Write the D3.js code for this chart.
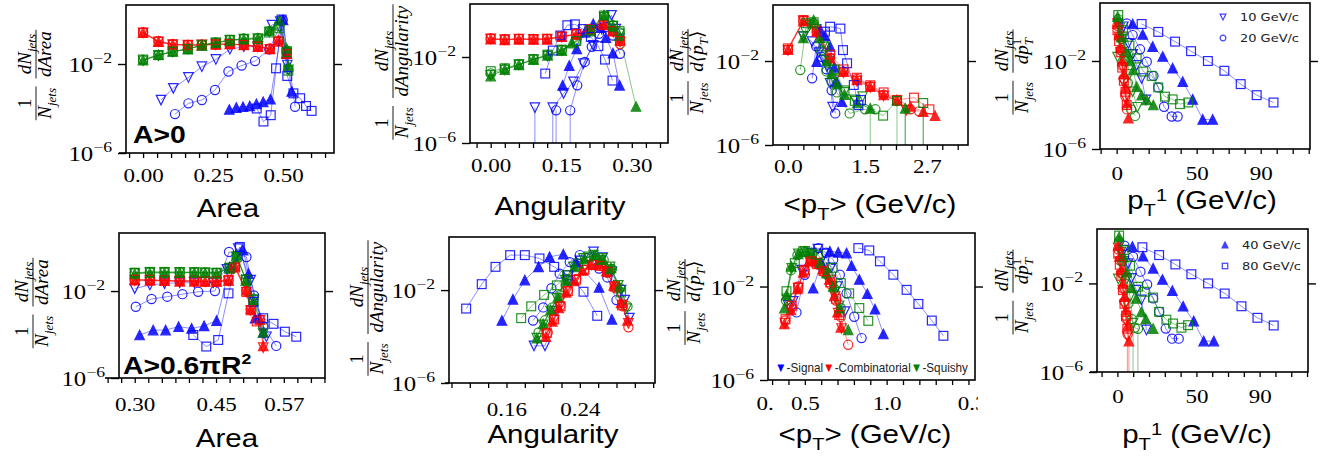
<!DOCTYPE html>
<html>
<head>
<meta charset="utf-8">
<script src="https://d3js.org/d3.v7.min.js"></script>
<style>
  body { margin: 0; background: #fff; }
  svg { display: block; }
</style>
</head>
<body>
<div id="canvas"></div>
<script>
// ---- series: each sample holds 4 curves, in order 10, 20, 40, 80 GeV/c ----
// a y value of 0 means an empty bin (line drops off the bottom of the log axis)

// Area, A>0
const areaA0_signal = [
  [[0.064,2.4e-4],[0.108,8.1e-4],[0.162,2.5e-3],[0.21,7.6e-3],[0.26,1.6e-2],[0.31,4.6e-2],[0.36,6e-2],[0.41,6e-2],[0.46,0.56],[0.49,0.8],[0.515,9e-3]],
  [[0.114,5.6e-5],[0.162,1.7e-4],[0.21,2.4e-4],[0.257,6.8e-4],[0.305,4.6e-3],[0.352,8.5e-3],[0.40,1.35e-2],[0.451,4.6e-2],[0.499,0.95],[0.543,1.2e-4]],
  [[0.308,9e-5],[0.333,1.1e-4],[0.357,1.2e-4],[0.381,1.3e-4],[0.405,1.6e-4],[0.429,2e-4],[0.455,2.6e-4],[0.50,0.95],[0.512,3e-2],[0.531,5.8e-4]],
  [[0.406,1e-4],[0.43,2.6e-5],[0.456,5e-5],[0.475,6.4e-3],[0.495,1.0],[0.515,2.9e-3],[0.537,4.8e-4],[0.561,2.9e-4],[0.582,1.3e-4],[0.602,7.8e-5]]
];
const areaA0_comb = [
  [[0,0.25],[0.055,0.1],[0.106,7.4e-2],[0.16,7e-2],[0.21,7.2e-2],[0.26,7.5e-2],[0.31,7.8e-2],[0.36,7e-2],[0.41,6e-2],[0.453,4.6e-2],[0.483,0.1],[0.513,3e-2]],
  [[0,0.27],[0.055,0.11],[0.106,7.8e-2],[0.16,7.2e-2],[0.21,7.4e-2],[0.26,7.8e-2],[0.31,8e-2],[0.36,7.4e-2],[0.41,6.2e-2],[0.453,5e-2],[0.483,0.11],[0.513,3.2e-2]],
  [[0,0.26],[0.055,0.1],[0.106,7.6e-2],[0.16,7e-2],[0.21,7e-2],[0.26,7.6e-2],[0.31,8e-2],[0.36,7.2e-2],[0.41,6e-2],[0.453,4.8e-2],[0.483,0.12],[0.513,3e-2]],
  [[0,0.25],[0.055,0.1],[0.106,7.5e-2],[0.16,7.1e-2],[0.21,7.2e-2],[0.26,7.6e-2],[0.31,7.9e-2],[0.36,7.2e-2],[0.41,6.1e-2],[0.453,4.7e-2],[0.483,0.1],[0.513,2.8e-2]]
];
const areaA0_squ = [
  [[0,1.4e-2],[0.055,2.4e-2],[0.106,3.5e-2],[0.16,4.7e-2],[0.21,7e-2],[0.26,9e-2],[0.31,0.12],[0.36,0.13],[0.41,0.14],[0.451,0.28],[0.487,0.45],[0.513,3.6e-2],[0.519,5.4e-3]],
  [[0,1.5e-2],[0.055,2.5e-2],[0.106,3.6e-2],[0.16,4.8e-2],[0.21,7.2e-2],[0.26,9.2e-2],[0.31,0.12],[0.36,0.14],[0.41,0.15],[0.451,0.3],[0.487,0.5],[0.513,4e-2],[0.519,6e-3]],
  [[0,1.5e-2],[0.055,2.6e-2],[0.106,3.7e-2],[0.16,4.6e-2],[0.21,6.8e-2],[0.26,8.8e-2],[0.31,0.11],[0.36,0.13],[0.41,0.14],[0.451,0.32],[0.487,0.9],[0.513,5e-2],[0.519,8e-3]],
  [[0,1.6e-2],[0.055,2.5e-2],[0.106,3.6e-2],[0.16,4.7e-2],[0.21,7e-2],[0.26,9e-2],[0.31,0.12],[0.36,0.13],[0.41,0.13],[0.451,0.26],[0.487,0.4],[0.513,3.4e-2],[0.519,5e-3]]
];

// Angularity, A>0
const angA0_signal = [
  [[0.094,4.4e-5],[0.11,0],[0.132,4.4e-5],[0.155,2e-4],[0.176,7e-4],[0.197,4.9e-3],[0.218,3.5e-2],[0.236,0.2],[0.257,0.87],[0.266,0.2],[0.274,7e-2]],
  [[0.139,3.3e-5],[0.15,0],[0.169,3.3e-5],[0.184,4.8e-4],[0.2,5.9e-3],[0.215,3e-2],[0.23,0.12],[0.245,0.25],[0.26,0.1],[0.275,1.4e-2]],
  [[0.153,4.8e-4],[0.167,4e-3],[0.183,2.4e-2],[0.2,0.14],[0.218,0.35],[0.234,0.23],[0.245,8e-2],[0.26,1.5e-2],[0.274,4.8e-4]],
  [[0.116,1.7e-3],[0.132,2e-2],[0.148,0.1],[0.163,0.3],[0.179,0.33],[0.196,0.2],[0.213,8.5e-2],[0.229,3.2e-2],[0.243,7.6e-3],[0.259,8e-4]]
];
const angA0_comb = [
  [[0,7e-2],[0.03,6.4e-2],[0.06,6.8e-2],[0.091,6.6e-2],[0.12,6.8e-2],[0.151,8.5e-2],[0.182,0.11],[0.211,0.18],[0.24,0.3],[0.26,0.15],[0.275,5e-2]],
  [[0,7.2e-2],[0.03,6.6e-2],[0.06,7e-2],[0.091,6.8e-2],[0.12,7e-2],[0.151,9e-2],[0.182,0.12],[0.211,0.2],[0.24,0.32],[0.26,0.17],[0.275,4e-2]],
  [[0,6.8e-2],[0.03,6.2e-2],[0.06,6.6e-2],[0.091,6.6e-2],[0.12,6.6e-2],[0.151,8.8e-2],[0.182,0.11],[0.211,0.19],[0.24,0.35],[0.26,0.16],[0.275,6e-2]],
  [[0,7e-2],[0.03,6.5e-2],[0.06,6.9e-2],[0.091,6.7e-2],[0.12,6.9e-2],[0.151,9e-2],[0.182,0.12],[0.211,0.19],[0.24,0.3],[0.26,0.16],[0.275,5.5e-2]]
];
const angA0_squ = [
  [[0,1.4e-3],[0.03,2.5e-3],[0.06,4.4e-3],[0.091,7.5e-3],[0.121,1.1e-2],[0.151,2e-2],[0.182,5e-2],[0.211,0.16],[0.241,0.7],[0.26,0.27],[0.274,0.12]],
  [[0,1.7e-3],[0.03,2.8e-3],[0.06,4.6e-3],[0.091,8e-3],[0.121,1.2e-2],[0.151,2.1e-2],[0.182,5.2e-2],[0.211,0.17],[0.241,0.8],[0.26,0.3],[0.274,0.14]],
  [[0,1.3e-3],[0.03,2.6e-3],[0.06,4.3e-3],[0.091,7.6e-3],[0.121,1.2e-2],[0.151,2e-2],[0.172,4.4e-2],[0.211,0.16],[0.241,0.9],[0.26,0.25],[0.274,0.1],[0.309,5e-5]],
  [[0,2.2e-3],[0.03,3e-3],[0.06,4.5e-3],[0.091,7.8e-3],[0.121,1.3e-2],[0.151,2.2e-2],[0.182,5.5e-2],[0.211,0.18],[0.241,0.85],[0.26,0.28],[0.274,0.16]]
];

// <pT>, A>0
const ptMeanA0_signal = [
  [[0.3,0.145],[0.47,8.3e-2],[0.6,2.5e-2],[0.7,1.1e-2],[0.76,5.4e-3],[0.82,8.7e-4],[0.87,6.3e-5]],
  [[0.47,1.5e-3],[0.55,5e-2],[0.65,1.6e-2],[0.75,4e-3],[0.85,4e-4],[0.92,3.2e-5]],
  [[0.56,9.3e-3],[0.63,0.3],[0.72,0.16],[0.82,5e-2],[0.9,5e-3],[0.95,1e-3],[1.05,1.15e-4]],
  [[0.72,0.25],[0.82,0.43],[1.02,0.35],[1.07,3.3e-2],[1.15,7.8e-3],[1.28,7.2e-4],[1.37,7.9e-5],[1.42,1.4e-4]]
];
const ptMeanA0_comb = [
  [[0,3.2e-2],[0.3,0.8],[0.56,0.22],[0.82,1.26e-2],[1.08,2.8e-3],[1.34,1.1e-3],[1.6,5.6e-4],[1.86,2.2e-4],[2.12,1.26e-4],[2.3,4.5e-5]],
  [[0,3.5e-2],[0.3,0.83],[0.56,0.25],[0.82,1.4e-2],[1.08,3.2e-3],[1.34,1.4e-3],[1.6,6.3e-4],[1.86,2.5e-4],[2.12,1.26e-4],[2.38,5e-5],[2.55,4e-5]],
  [[0,3.5e-2],[0.3,0.8],[0.56,0.25],[0.82,1.35e-2],[1.08,3.1e-3],[1.34,1.26e-3],[1.6,6e-4],[1.86,2.4e-4],[2.12,1.4e-4],[2.38,6.8e-5],[2.63,3.9e-5],[2.86,2.5e-5]],
  [[0,4e-2],[0.3,0.9],[0.56,0.28],[0.82,2e-2],[1.08,4e-3],[1.34,1.6e-3],[1.6,7e-4],[1.86,3.2e-4],[2.12,1.4e-4],[2.45,1.8e-4],[2.75,5e-5]]
];
const ptMeanA0_squ = [
  [[0.3,0.145],[0.42,0.5],[0.55,0.32],[0.7,6.3e-2],[0.8,1e-2],[0.9,1.26e-3],[1.1,3.2e-4],[1.3,1.4e-4],[1.45,2e-4]],
  [[0.24,3.7e-3],[0.35,0.4],[0.5,0.63],[0.65,3.2e-2],[0.75,3.2e-3],[0.85,1e-3],[0.95,3.2e-4],[1.2,3.2e-5],[1.5,5e-5],[1.7,5e-5]],
  [[0.3,0.126],[0.5,0.9],[0.62,0.126],[0.75,1e-2],[0.85,2.5e-3],[0.95,8e-4],[1.1,2.5e-4],[1.35,1e-4],[1.6,5.6e-5],[1.9,0],[2.28,5.6e-5],[2.4,0]],
  [[0.35,0.63],[0.5,0.7],[0.7,5e-2],[0.9,4e-3],[1.1,4e-4],[1.3,1.26e-4],[1.85,2.5e-5],[2.12,1.26e-4],[2.3,0],[2.63,1e-4],[2.7,0]]
];

// pT leading, A>0
const ptLeadA0_signal = [
  [[4.2,0.36],[7.3,6.3e-2],[10,2e-2],[12.5,6.3e-3],[15.6,1.6e-3],[18.3,1.7e-4]],
  [[6.3,0.51],[10,0.15],[14.6,3.4e-2],[18.8,9.3e-3],[23,2.1e-3],[26,6.3e-4],[29.6,8.3e-5],[34.4,3e-5],[38.1,3e-5]],
  [[10,0.48],[16.3,0.16],[22.5,4.5e-2],[28.8,1.6e-2],[35,4.7e-3],[41.3,1.15e-3],[47.5,1.8e-4],[53.8,2.2e-5],[60,2.2e-5]],
  [[15.6,0.48],[26,0.21],[36.5,7.6e-2],[46.5,2.8e-2],[57,1e-2],[67.3,3.6e-3],[77.5,8.9e-4],[87.5,2.8e-4],[98,1.3e-4]]
];
const ptLeadA0_comb = [
  [[0.5,0.5],[1.5,0.126],[2.5,2.5e-2],[3.5,5e-3],[4.5,1e-3],[5.5,2e-4]],
  [[0.5,0.4],[1.5,0.126],[2.5,3.2e-2],[3.5,6.3e-3],[4.5,1.6e-3],[5.5,2.5e-4],[6.5,6.3e-5]],
  [[0.5,0.5],[1.5,0.16],[2.5,4e-2],[3.5,1e-2],[4.5,2.5e-3],[5.5,6.3e-4],[6.5,1.26e-4],[7.3,2.5e-5]],
  [[0.5,0.25],[1.5,7.9e-2],[2.5,2.5e-2],[3.5,5e-3],[4.5,1.26e-3],[5.5,4e-4],[6.3,1e-4]]
];
const ptLeadA0_squ = [
  [[0.6,1.5e-2],[2,0.32],[4,0.126],[6,1.6e-2],[8,2.5e-3],[10,4e-4],[13,7.9e-5]],
  [[1,0.8],[3,0.1],[5,1e-2],[7,1e-3],[9,6.3e-5],[11.5,3.2e-5]],
  [[0.6,1.05],[3,0.126],[6,2.5e-2],[8.5,1e-2],[10.4,3.9e-3],[12.5,6.8e-4],[15.6,2.8e-4],[18.8,1.7e-4],[22.9,1e-4]],
  [[1,1.23],[4,0.25],[8,5e-2],[12.5,1.3e-2],[16.7,3.3e-3],[21.9,2.1e-3],[26,6.3e-4],[30.2,2.4e-4],[35,1.8e-4],[39.6,1.1e-4],[44.8,1.3e-4]]
];

// Area, A>0.6piR^2
const areaA06_signal = [
  [[0.30,1.3e-2],[0.328,1.9e-2],[0.355,2.2e-2],[0.383,2.4e-2],[0.41,2.4e-2],[0.445,2.4e-2],[0.47,0.1],[0.491,0.9],[0.514,3.2e-2],[0.543,7.9e-5]],
  [[0.302,1.9e-3],[0.331,4.3e-3],[0.36,5.5e-3],[0.388,7.2e-3],[0.417,9.3e-3],[0.448,1e-2],[0.474,0.63],[0.506,0.37],[0.52,6.3e-3],[0.537,2.5e-4],[0.561,3e-5]],
  [[0.309,9.5e-5],[0.334,1.6e-4],[0.357,1.6e-4],[0.381,2.3e-4],[0.405,1.9e-4],[0.428,2.5e-4],[0.451,4.4e-4],[0.475,0.126],[0.5,0.76],[0.51,6.3e-2],[0.522,5.6e-4],[0.537,1.26e-4]],
  [[0.408,9.5e-5],[0.432,2.8e-5],[0.454,5.6e-5],[0.473,7.8e-3],[0.494,1.07],[0.519,3.2e-3],[0.537,5.6e-4],[0.556,3.1e-4],[0.577,1.35e-4],[0.598,7.9e-5]]
];
const areaA06_comb = [
  [[0.30,3e-2],[0.328,3e-2],[0.355,2.9e-2],[0.383,2.8e-2],[0.41,2.8e-2],[0.43,2.7e-2],[0.451,2.6e-2],[0.473,2.9e-2],[0.485,0.12],[0.506,9e-3],[0.514,1.3e-3],[0.531,4.5e-4],[0.537,2.5e-5]],
  [[0.30,3.3e-2],[0.328,3.2e-2],[0.355,3e-2],[0.383,2.9e-2],[0.41,2.9e-2],[0.43,2.8e-2],[0.451,2.8e-2],[0.473,3.1e-2],[0.485,0.13],[0.506,1e-2],[0.514,1.4e-3],[0.531,5e-4]],
  [[0.30,3.2e-2],[0.328,3.1e-2],[0.355,3e-2],[0.383,2.8e-2],[0.41,2.8e-2],[0.43,2.7e-2],[0.451,2.7e-2],[0.473,3e-2],[0.485,0.14],[0.506,1.1e-2],[0.514,1.5e-3],[0.531,4.8e-4],[0.537,3e-5]],
  [[0.30,3.4e-2],[0.328,3.3e-2],[0.355,3.1e-2],[0.383,3e-2],[0.41,3e-2],[0.43,2.9e-2],[0.451,2.9e-2],[0.473,3.3e-2],[0.485,0.12],[0.506,9e-3],[0.514,1.3e-3],[0.525,4e-4]]
];
const areaA06_squ = [
  [[0.30,6.5e-2],[0.328,7e-2],[0.355,7e-2],[0.383,7e-2],[0.41,7e-2],[0.43,6.8e-2],[0.451,6.6e-2],[0.475,0.11],[0.488,0.38],[0.505,3.2e-2],[0.519,3.9e-3],[0.537,1.1e-4]],
  [[0.30,6.8e-2],[0.328,7.4e-2],[0.355,7.4e-2],[0.383,7.2e-2],[0.41,7.2e-2],[0.43,7e-2],[0.451,6.8e-2],[0.475,0.12],[0.488,0.4],[0.505,3.6e-2],[0.519,4.5e-3],[0.537,2.2e-4]],
  [[0.30,6.2e-2],[0.328,6.8e-2],[0.355,6.8e-2],[0.383,7e-2],[0.41,7e-2],[0.43,6.8e-2],[0.451,6.5e-2],[0.475,0.11],[0.488,0.45],[0.505,3e-2],[0.519,3.5e-3],[0.537,1.3e-4]],
  [[0.30,7e-2],[0.328,7.6e-2],[0.355,7.6e-2],[0.383,7.5e-2],[0.41,7.4e-2],[0.43,7.2e-2],[0.451,7e-2],[0.475,0.12],[0.488,0.36],[0.505,3.4e-2],[0.519,4e-3]]
];

// Angularity, A>0.6piR^2
const angA06_signal = [
  [[0.19,4e-5],[0.202,4e-5],[0.215,1.26e-3],[0.227,2.5e-2],[0.24,0.18],[0.255,0.44],[0.265,0.25],[0.275,6.3e-2],[0.285,1e-2],[0.289,3.7e-3],[0.294,6.2e-4]],
  [[0.189,4.9e-4],[0.2,1.8e-3],[0.209,1.2e-2],[0.218,5.1e-2],[0.229,0.16],[0.24,0.32],[0.25,0.25],[0.261,8.5e-2],[0.27,3.5e-2],[0.28,3.7e-3]],
  [[0.155,4.9e-4],[0.167,4e-3],[0.18,2.7e-2],[0.195,0.1],[0.207,0.27],[0.222,0.35],[0.236,0.16],[0.261,1.3e-2],[0.275,5.5e-4]],
  [[0.116,1.6e-3],[0.133,1.8e-2],[0.148,0.1],[0.164,0.32],[0.18,0.32],[0.196,0.23],[0.212,0.1],[0.227,4.4e-2],[0.244,8.5e-3],[0.259,7.8e-4]]
];
const angA06_comb = [
  [[0.203,1.2e-4],[0.212,5.1e-4],[0.218,1.9e-3],[0.226,8.5e-3],[0.235,2.7e-2],[0.244,7.2e-2],[0.253,0.12],[0.262,0.12],[0.269,6.2e-2],[0.278,1.4e-2],[0.286,2.3e-3],[0.293,3.7e-4]],
  [[0.205,1.5e-4],[0.212,6e-4],[0.219,2.2e-3],[0.227,9.5e-3],[0.236,3e-2],[0.245,7.5e-2],[0.254,0.13],[0.263,0.11],[0.27,5.5e-2],[0.279,1.2e-2],[0.287,2e-3],[0.293,2.5e-4]],
  [[0.203,1e-4],[0.21,4.5e-4],[0.217,1.7e-3],[0.225,8e-3],[0.234,2.5e-2],[0.243,7e-2],[0.252,0.13],[0.261,0.13],[0.269,6.5e-2],[0.277,1.6e-2],[0.285,2.8e-3],[0.292,5e-4]],
  [[0.204,1.4e-4],[0.212,5.5e-4],[0.219,2e-3],[0.227,9e-3],[0.236,2.8e-2],[0.245,7.4e-2],[0.254,0.12],[0.262,0.11],[0.27,6e-2],[0.278,1.4e-2],[0.286,2.2e-3]]
];
const angA06_squ = [
  [[0.193,8.5e-5],[0.2,3.2e-4],[0.208,1.26e-3],[0.215,4.4e-3],[0.224,2.7e-2],[0.233,0.1],[0.244,0.23],[0.255,0.32],[0.264,0.23],[0.273,0.1],[0.282,1.6e-2],[0.291,1.6e-3]],
  [[0.195,1.5e-4],[0.202,5e-4],[0.21,1.8e-3],[0.218,6e-3],[0.226,3e-2],[0.235,0.11],[0.246,0.25],[0.256,0.3],[0.266,0.2],[0.275,8e-2],[0.284,1.2e-2],[0.292,2e-3]],
  [[0.193,8.5e-5],[0.2,3.5e-4],[0.208,1.4e-3],[0.216,5e-3],[0.225,2.6e-2],[0.234,0.1],[0.245,0.22],[0.256,0.3],[0.265,0.22],[0.274,9e-2],[0.283,1.4e-2]],
  [[0.176,6.2e-4],[0.187,2e-3],[0.201,6.2e-3],[0.215,1.6e-2],[0.226,4.4e-2],[0.238,0.14],[0.25,0.28],[0.262,0.2],[0.273,7.9e-2],[0.285,7.9e-3]]
];

// <pT>, A>0.6piR^2
const ptMeanA06_signal = [
  [[0.398,1.6e-3],[0.429,2.3e-3],[0.48,5e-2],[0.541,0.27],[0.58,0.4],[0.62,0.25],[0.66,6.3e-2],[0.7,1e-2],[0.745,8.5e-4]],
  [[0.449,7.8e-4],[0.5,3.2e-2],[0.582,0.44],[0.63,0.28],[0.673,0.14],[0.714,3.2e-2],[0.755,5.1e-3],[0.802,5.1e-4],[0.847,6.2e-5]],
  [[0.551,8.5e-3],[0.6,0.1],[0.653,0.32],[0.704,0.29],[0.755,0.27],[0.786,7.8e-2],[0.833,2e-2],[0.882,4.9e-3],[0.929,1.07e-3],[0.98,9.3e-5]],
  [[0.827,0.44],[0.894,0.35],[0.959,0.12],[1.041,3.2e-2],[1.122,7.2e-3],[1.194,1.8e-3],[1.276,3.5e-4],[1.347,7.8e-5]]
];
const ptMeanA06_comb = [
  [[0.378,2.7e-4],[0.418,1e-3],[0.459,8.5e-3],[0.49,4.4e-2],[0.531,0.12],[0.571,0.1],[0.612,5.1e-2],[0.653,1.9e-2],[0.684,3.7e-3],[0.704,7.2e-4],[0.724,1.6e-4]],
  [[0.38,3.5e-4],[0.42,1.3e-3],[0.46,1e-2],[0.5,5e-2],[0.54,0.13],[0.58,9e-2],[0.62,4e-2],[0.66,1.2e-2],[0.69,2.5e-3],[0.72,5e-4],[0.765,3.2e-5]],
  [[0.375,2.5e-4],[0.415,1e-3],[0.455,8e-3],[0.49,4e-2],[0.53,0.14],[0.57,0.11],[0.61,5.5e-2],[0.65,2e-2],[0.68,4e-3],[0.7,8e-4],[0.72,1.8e-4]],
  [[0.382,4e-4],[0.42,1.5e-3],[0.46,9e-3],[0.495,5e-2],[0.535,0.12],[0.575,9e-2],[0.615,4.5e-2],[0.655,1.5e-2],[0.69,3e-3],[0.71,6e-4]]
];
const ptMeanA06_squ = [
  [[0.39,3e-3],[0.42,6e-2],[0.46,0.25],[0.5,0.32],[0.54,0.25],[0.59,9e-2],[0.63,3.5e-2],[0.67,1e-2],[0.71,1.5e-3]],
  [[0.385,2.5e-3],[0.415,5e-2],[0.455,0.22],[0.5,0.3],[0.545,0.24],[0.595,8e-2],[0.64,3e-2],[0.68,8e-3],[0.72,1.2e-3]],
  [[0.375,1.2e-3],[0.388,4.4e-3],[0.418,7.2e-2],[0.46,0.25],[0.5,0.32],[0.541,0.27],[0.592,0.1],[0.633,3.7e-2],[0.673,1e-2],[0.714,1.2e-3],[0.765,1.4e-4]],
  [[0.388,6.3e-3],[0.439,0.1],[0.49,0.32],[0.58,0.22],[0.67,6.3e-2],[0.72,1.4e-2],[0.771,5.1e-3],[0.833,1.2e-3],[0.888,3.4e-4]]
];

// pT leading, A>0.6piR^2
const ptLeadA06_signal = [
  [[4,0.32],[6.8,7.9e-2],[8.9,1.7e-2],[12,5e-3],[15.2,1.8e-3],[18.4,7.9e-5]],
  [[4.5,0.5],[9.9,0.16],[14.6,3.4e-2],[18.8,8.9e-3],[22.6,2.1e-3],[26.4,5.2e-4],[30.6,9.1e-5],[34.6,3.2e-5],[38.8,3.2e-5]],
  [[9.5,0.46],[16.2,0.17],[22.6,4.8e-2],[28.5,1.5e-2],[34.8,4.7e-3],[41.6,9.3e-4],[48.3,2e-4],[54.6,2.5e-5],[61,2.5e-5]],
  [[15.8,0.43],[26.4,0.19],[36.7,7.2e-2],[46.8,2.6e-2],[57.4,1e-2],[67.9,3.5e-3],[78.5,9.3e-4],[88.6,2.8e-4],[98.9,1.26e-4]]
];
const ptLeadA06_comb = [
  [[0.5,0.4],[1.5,0.1],[2.5,2.2e-2],[3.5,5e-3],[4.5,1e-3],[5.5,2e-4],[6.3,4e-5],[6.8,0]],
  [[0.5,0.35],[1.5,0.11],[2.5,3e-2],[3.5,6e-3],[4.5,1.5e-3],[5.5,2.5e-4],[6.5,5e-5]],
  [[0.5,0.5],[1.5,0.16],[2.5,4e-2],[3.5,1e-2],[4.5,2.5e-3],[5.5,6.3e-4],[6.5,1.26e-4],[7.3,2.5e-5],[7.8,0]],
  [[0.5,0.22],[1.5,7e-2],[2.5,2.2e-2],[3.5,5e-3],[4.5,1.2e-3],[5.5,3.5e-4],[6.3,9e-5]]
];
const ptLeadA06_squ = [
  [[0.6,1.6e-2],[2,0.25],[4,0.1],[6,1.6e-2],[8,2.5e-3],[9.9,1.6e-4],[10.2,0]],
  [[1,0.8],[3,0.1],[5,1e-2],[7,1.26e-3],[9,2.5e-4],[11,1e-4],[13,9e-5],[13.7,0]],
  [[1.1,1.26],[3.5,0.16],[6,3.2e-2],[9,6.3e-3],[12,2.1e-3],[15.2,5.2e-4],[18,2.5e-4],[22.6,9.1e-5]],
  [[1.1,1.45],[4,0.32],[8,6.3e-2],[13.1,7.1e-3],[17.3,4.2e-3],[22.6,2.3e-3],[26.4,5.2e-4],[31,2.3e-4],[35.2,1.55e-4],[40.5,1e-4],[44.7,1.3e-4]]
];

// ---- tick labels ----
const areaA0_xLabels    = [[0, "0.00"], [0.25, "0.25"], [0.5, "0.50"]];
const angA0_xLabels     = [[0, "0.00"], [0.15, "0.15"], [0.3, "0.30"]];
const ptMeanA0_xLabels  = [[0, "0.0"], [1.5, "1.5"], [2.7, "2.7"]];
const ptLeadA0_xLabels  = [[0, "0"], [50, "50"], [90, "90"]];
const areaA06_xLabels   = [[0.3, "0.30"], [0.45, "0.45"], [0.575, "0.57"]];
const angA06_xLabels    = [[0.16, "0.16"], [0.24, "0.24"]];
const ptMeanA06_xLabels = [[0.255, "0."], [0.5, "0.5"], [1.0, "1.0"], [1.52, "0.3"]];
const ptLeadA06_xLabels = [[0, "0"], [50, "50"], [90, "90"]];
const yTickLabels = [[1e-2, "\u22122"], [1e-6, "\u22126"]];

const energyLabels = ["10 GeV/c", "20 GeV/c", "40 GeV/c", "80 GeV/c"];
const sampleNames = ["-Signal", "-Combinatorial", "-Squishy"];
const sampleColors = ["#0000ff", "#ff0000", "#008000"];

// ---- layout ----
const SX = 1.18;  // the source figure is stretched horizontally
const SERIF = "'Liberation Serif', 'DejaVu Serif', serif";
const SANS = "'Liberation Sans', Arial, sans-serif";

const panels = [
  { frame: [126, 5, 334, 153], xDomain: [-0.061, 0.682], yTop: 0.652, xTicks: [-0.05, 0.65, 0.05],
    labels: areaA0_xLabels, labelOff: 29, ext: 7, series: [areaA0_signal, areaA0_comb, areaA0_squ],
    kind: "area", yLab: [36, 75], title: [228, 217], tag: { t: "A>0", x: 133, y: 143 } },
  { frame: [470, 4, 668, 143], xDomain: [-0.044, 0.377], yTop: 0.465, xTicks: [-0.03, 0.36, 0.03],
    labels: angA0_xLabels, labelOff: 29, ext: 0, series: [angA0_signal, angA0_comb, angA0_squ],
    kind: "ang", yLab: [393, 72], title: [560, 215] },
  { frame: [773, 5, 968, 145], xDomain: [-0.29, 3.5], yTop: 0.667, xTicks: [0, 3.3, 0.3],
    labels: ptMeanA0_xLabels, labelOff: 28, ext: 0, series: [ptMeanA0_signal, ptMeanA0_comb, ptMeanA0_squ],
    kind: "ptmean", yLab: [688, 72], title: [870, 213] },
  { frame: [1100, 3, 1310, 149], xDomain: [-10.4, 120.8], yTop: 0.636, xTicks: [-10, 120, 10],
    labels: ptLeadA0_xLabels, labelOff: 31, ext: 0, series: [ptLeadA0_signal, ptLeadA0_comb, ptLeadA0_squ],
    kind: "ptlead", yLab: [1013, 72], title: [1202, 209], legend: { idx: [0, 1], x: 1223, y: 17 } },
  { frame: [119, 233, 325, 378], xDomain: [0.271, 0.651], yTop: 0.67, xTicks: [0.25, 0.65, 0.025],
    labels: areaA06_xLabels, labelOff: 33, ext: 14, series: [areaA06_signal, areaA06_comb, areaA06_squ],
    kind: "area", yLab: [33, 303], title: [227, 447], tag: { t: "A>0.6\u03c0R", sup: "2", x: 123, y: 374 } },
  { frame: [449, 237, 655, 383], xDomain: [0.0973, 0.322], yTop: 0.285, xTicks: [0.1, 0.32, 0.02],
    labels: angA06_xLabels, labelOff: 33, ext: 4, series: [angA06_signal, angA06_comb, angA06_squ],
    kind: "ang", yLab: [368, 308], title: [553, 443] },
  { frame: [768, 233, 975, 380], xDomain: [0.275, 1.54], yTop: 0.29, xTicks: [0.3, 1.5, 0.1],
    labels: ptMeanA06_xLabels, labelOff: 30, ext: 0, series: [ptMeanA06_signal, ptMeanA06_comb, ptMeanA06_squ],
    kind: "ptmean", yLab: [685, 302], title: [865, 443], labelClip: 978, sampleLegend: { x: 775, y: 372, w: 193 } },
  { frame: [1097, 229, 1308, 372], xDomain: [-12.9, 120.6], yTop: 0.457, xTicks: [-10, 120, 10],
    labels: ptLeadA06_xLabels, labelOff: 31, ext: 7, series: [ptLeadA06_signal, ptLeadA06_comb, ptLeadA06_squ],
    kind: "ptlead", yLab: [1013, 292], title: [1197, 443], legend: { idx: [2, 3], x: 1225, y: 245 } }
];

const svg = d3.select("#canvas").append("svg").attr("width", 1336).attr("height", 462);

// marker types: 0 open down-triangle, 1 open circle, 2 filled up-triangle, 3 open square
function drawMarker(g, type, color, k) {
  k = k || 1;
  const h = 4.75 * k;
  if (type === 0) g.append("path").attr("d", `M${-h},${-h}L${h},${-h}L0,${h}Z`).attr("fill", "none");
  else if (type === 1) g.append("circle").attr("r", 4.6 * k).attr("fill", "none");
  else if (type === 2) g.append("path").attr("d", `M0,${-h}L${h},${h}L${-h},${h}Z`).attr("fill", color);
  else g.append("rect").attr("x", -4.4 * k).attr("y", -4.4 * k).attr("width", 8.8 * k).attr("height", 8.8 * k).attr("fill", "none");
  g.selectAll("*").attr("stroke", color).attr("stroke-width", 1.2);
}

// text runs with sub/superscripts
function addRuns(t, runs, o) {
  let shift = 0;
  runs.forEach(r => {
    const target = r.sub ? o.sub : r.sup ? o.sup : 0;
    const ts = t.append("tspan").attr("dy", target - shift).text(r.t);
    if (r.dx) ts.attr("dx", r.dx);
    if (r.sub || r.sup) ts.attr("font-size", o.small);
    if (r.i) ts.attr("font-style", "italic");
    shift = target;
  });
}

const titleRuns = {
  area: [{ t: "Area" }],
  ang: [{ t: "Angularity" }],
  ptmean: [{ t: "<p" }, { t: "T", sub: true }, { t: "> (GeV/c)" }],
  ptlead: [{ t: "p" }, { t: "T", sub: true }, { t: "1", sup: true }, { t: " (GeV/c)" }]
};
const denomRuns = {
  area: [{ t: "dArea", i: true }],
  ang: [{ t: "dAngularity", i: true }],
  ptmean: [{ t: "d\u27e8p", i: true }, { t: "T", i: true, sub: true }, { t: "\u27e9" }],
  ptlead: [{ t: "dp", i: true }, { t: "1", sup: true }, { t: "T", i: true, sub: true, dx: -6.5 }]
};

function addYLabel(p) {
  const [bx, cy] = p.yLab;
  const g = svg.append("g").attr("transform", `translate(${bx},${cy}) rotate(-90)`)
    .style("font-family", SERIF).style("font-size", "19px").attr("fill", "#000");
  const o = { sub: 5, sup: -7, small: 13 };
  const f1 = g.append("g"), f2 = g.append("g");
  const n1 = f1.append("text").attr("text-anchor", "middle").attr("y", -5).text("1");
  const d1 = f1.append("text").attr("text-anchor", "middle").attr("y", 15);
  addRuns(d1, [{ t: "N", i: true }, { t: "jets", i: true, sub: true }], o);
  const n2 = f2.append("text").attr("text-anchor", "middle").attr("y", -5);
  addRuns(n2, [{ t: "dN", i: true }, { t: "jets", i: true, sub: true }], o);
  const d2 = f2.append("text").attr("text-anchor", "middle").attr("y", 15);
  addRuns(d2, denomRuns[p.kind], o);
  const w1 = Math.max(n1.node().getComputedTextLength(), d1.node().getComputedTextLength()) + 3;
  const w2 = Math.max(n2.node().getComputedTextLength(), d2.node().getComputedTextLength()) + 3;
  const gap = 8, W = w1 + gap + w2;
  f1.attr("transform", `translate(${-W / 2 + w1 / 2},0)`);
  f2.attr("transform", `translate(${W / 2 - w2 / 2},0)`);
  f1.append("line").attr("x1", -w1 / 2).attr("x2", w1 / 2).attr("stroke", "#000").attr("stroke-width", 0.9);
  f2.append("line").attr("x1", -w2 / 2).attr("x2", w2 / 2).attr("stroke", "#000").attr("stroke-width", 0.9);
}

function buildPanel(p, pi) {
  const [x0, y0, x1, y1] = p.frame;
  const x = d3.scaleLinear().domain(p.xDomain).range([x0, x1]);
  const y = d3.scaleLog().domain([1e-6, Math.pow(10, p.yTop)]).range([y1, y0]);
  const py = v => (v > 0 ? y(v) : y1 + 1e5);

  const clipId = "clip" + pi;
  svg.append("clipPath").attr("id", clipId).append("rect")
    .attr("x", x0).attr("y", y0).attr("width", x1 - x0).attr("height", y1 - y0);
  const plot = svg.append("g").attr("clip-path", `url(#${clipId})`);
  const line = d3.line().x(d => x(d[0])).y(d => py(d[1]));

  for (let e = 0; e < 4; e++) {
    p.series.forEach((sample, s) => {
      const pts = sample[e];
      const color = sampleColors[s];
      const g = plot.append("g");
      g.append("path").datum(pts).attr("d", line).attr("fill", "none")
        .attr("stroke", color).attr("stroke-width", 1).attr("stroke-opacity", 0.45);
      g.selectAll("g.m").data(pts.filter(d => d[1] > 0)).enter().append("g")
        .attr("class", "m").attr("opacity", 0.85)
        .attr("transform", d => `translate(${x(d[0])},${y(d[1])})`)
        .each(function () { drawMarker(d3.select(this), e, color); });
    });
  }

  // frame
  svg.append("rect").attr("x", x0).attr("y", y0).attr("width", x1 - x0).attr("height", y1 - y0)
    .attr("fill", "none").attr("stroke", "#000").attr("stroke-width", 1.6);
  if (p.ext) svg.append("line").attr("x1", x0 - p.ext).attr("x2", x0).attr("y1", y1).attr("y2", y1)
    .attr("stroke", "#000").attr("stroke-width", 1.6);

  // x ticks
  const tv = d3.range(p.xTicks[0], p.xTicks[1] + p.xTicks[2] / 2, p.xTicks[2]);
  const gx = svg.append("g").attr("transform", `translate(0,${y1})`)
    .call(d3.axisBottom(x).tickValues(tv).tickSize(5).tickFormat(""));
  gx.select(".domain").remove();
  gx.selectAll("line").attr("stroke", "#000").attr("stroke-width", 1.3);

  // x tick labels
  const gl = svg.append("g").attr("transform", `translate(0,${y1})`)
    .call(d3.axisBottom(x).tickValues(p.labels.map(d => d[0])).tickSize(0)
      .tickFormat((d, i) => p.labels[i][1]));
  gl.select(".domain").remove();
  gl.attr("font-family", null).attr("font-size", null);
  gl.selectAll("text").attr("y", p.labelOff).attr("dy", 0).attr("fill", "#000")
    .attr("transform", `scale(${SX},1)`)
    .style("font-family", SERIF).style("font-size", "19.5px");
  if (p.labelClip) {
    const cid = "lclip" + pi;
    svg.append("clipPath").attr("id", cid).append("rect")
      .attr("x", 0).attr("y", 0).attr("width", p.labelClip).attr("height", 462);
    gl.attr("clip-path", `url(#${cid})`);
  }

  // y ticks, left and right
  const gy = svg.append("g").attr("transform", `translate(${x0},0)`)
    .call(d3.axisLeft(y).tickValues(yTickLabels.map(d => d[0])).tickSize(8).tickFormat(""));
  gy.select(".domain").remove();
  gy.selectAll("line").attr("stroke", "#000").attr("stroke-width", 1.4);
  const gr = svg.append("g").attr("transform", `translate(${x1},0)`)
    .call(d3.axisRight(y).tickValues([1e-2]).tickSize(8).tickFormat(""));
  gr.select(".domain").remove();
  gr.selectAll("line").attr("stroke", "#000").attr("stroke-width", 1.4);

  yTickLabels.forEach(([v, ex]) => {
    const t = svg.append("text").attr("text-anchor", "end")
      .attr("transform", `translate(${x0 - 14},${y(v) + 8}) scale(${SX},1)`)
      .style("font-family", SERIF).style("font-size", "21px").attr("fill", "#000");
    t.append("tspan").text("10");
    t.append("tspan").attr("dy", -9).attr("font-size", 15).text(ex);
  });

  // x title
  const tt = svg.append("text").attr("text-anchor", "middle")
    .attr("transform", `translate(${p.title[0]},${p.title[1]}) scale(${SX},1)`)
    .style("font-family", SANS).style("font-size", "25px").attr("fill", "#000");
  addRuns(tt, titleRuns[p.kind], { sub: 7, sup: -8, small: 17 });

  addYLabel(p);

  if (p.tag) {
    const t = svg.append("text").attr("transform", `translate(${p.tag.x},${p.tag.y}) scale(${SX},1)`)
      .style("font-family", SANS).style("font-size", "24px").style("font-weight", "bold").attr("fill", "#000");
    t.append("tspan").text(p.tag.t);
    if (p.tag.sup) t.append("tspan").attr("dy", -10).attr("font-size", 15).text(p.tag.sup);
  }

  if (p.legend) {
    p.legend.idx.forEach((e, j) => {
      const ly = p.legend.y + j * 21;
      const mg = svg.append("g").attr("transform", `translate(${p.legend.x},${ly})`).attr("opacity", 0.75);
      drawMarker(mg, e, sampleColors[0], 0.62);
      svg.append("text").attr("transform", `translate(${p.legend.x + 17},${ly + 4}) scale(${SX},1)`)
        .style("font-family", "'DejaVu Sans', sans-serif").style("font-size", "11px").attr("fill", "#222")
        .text(energyLabels[e]);
    });
  }

  if (p.sampleLegend) {
    // pieces laid end to end, then squeezed to the legend width
    const lg = svg.append("g");
    const pieces = [];
    sampleNames.forEach((n, i) => {
      pieces.push({ t: "\u25bc", c: sampleColors[i] });
      pieces.push({ t: n, c: "#222" });
    });
    let cx = 0;
    pieces.forEach(pc => {
      const t = lg.append("text").attr("x", cx).attr("y", 0)
        .style("font-family", SANS).style("font-size", "13px").attr("fill", pc.c).text(pc.t);
      cx += t.node().getComputedTextLength();
    });
    const k = p.sampleLegend.w / cx;
    lg.attr("transform", `translate(${p.sampleLegend.x},${p.sampleLegend.y}) scale(${k},1)`);
  }
}

panels.forEach(buildPanel);
</script>
</body>
</html>
